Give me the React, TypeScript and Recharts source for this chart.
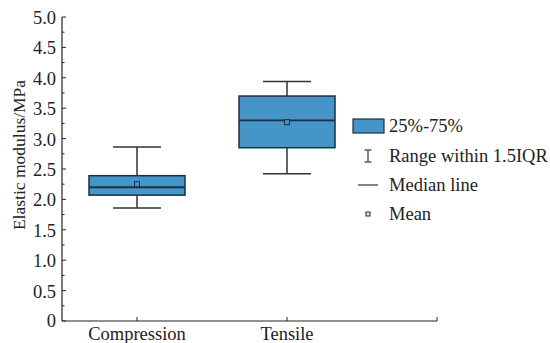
import React from 'react';
import { ComposedChart, Bar, Scatter, XAxis, YAxis } from 'recharts';

const categories = ['Compression', 'Tensile'];
const positions = [0.5, 1.5];
const whiskerLow = [1.86, 2.42];
const q1 = [2.07, 2.85];
const median = [2.2, 3.3];
const q3 = [2.39, 3.7];
const whiskerHigh = [2.86, 3.94];
const mean = [2.25, 3.27];

const yTicks = Array.from({ length: 21 }, (_, i) => i * 0.25);
const xTicks = [0.5, 1.5, 2.5];
const legendLabels = ['25%-75%', 'Range within 1.5IQR', 'Median line', 'Mean'];

const data = categories.map((c, i) => ({
  name: c,
  pos: positions[i],
  low: whiskerLow[i],
  q1: q1[i],
  median: median[i],
  q3: q3[i],
  high: whiskerHigh[i],
  mean: mean[i],
}));

const FONT = '"Liberation Serif", "Times New Roman", serif';
const BOX = '#4595c9';
const EDGE = '#1d2f40';
const INK = '#222';

const BoxShape = (props: any) => {
  const { x, y, width, height, payload } = props;
  const top = Math.min(y, y + height);
  const h = Math.abs(height);
  const k = h / (payload.q3 - payload.q1);
  const yOf = (v: number) => top + (payload.q3 - v) * k;
  const cx = x + width / 2;
  const capHalf = width / 4;
  const yHigh = yOf(payload.high);
  const yLow = yOf(payload.low);
  const yMed = yOf(payload.median);
  return (
    <g>
      <line x1={cx} x2={cx} y1={yHigh} y2={top} stroke="#333" strokeWidth={1.5} />
      <line x1={cx} x2={cx} y1={top + h} y2={yLow} stroke="#333" strokeWidth={1.5} />
      <line x1={cx - capHalf} x2={cx + capHalf} y1={yHigh} y2={yHigh} stroke="#333" strokeWidth={1.5} />
      <line x1={cx - capHalf} x2={cx + capHalf} y1={yLow} y2={yLow} stroke="#333" strokeWidth={1.5} />
      <rect x={x} y={top} width={width} height={h} fill={BOX} stroke={EDGE} strokeWidth={1.5} />
      <line x1={x} x2={x + width} y1={yMed} y2={yMed} stroke={EDGE} strokeWidth={1.8} />
    </g>
  );
};

const MeanShape = (props: any) => {
  const { cx, cy } = props;
  return <rect x={cx - 2.5} y={cy - 2.5} width={5} height={5} fill={BOX} stroke={EDGE} strokeWidth={1} />;
};

const YTick = (props: any) => {
  const { x, y, payload } = props;
  const v = payload.value;
  const axisX = x + 6;
  const major = Math.abs(v * 2 - Math.round(v * 2)) < 1e-6;
  const label = v === 0 ? '0' : v.toFixed(1);
  return (
    <g>
      <line x1={axisX} x2={axisX + (major ? 4 : 2.5)} y1={y} y2={y} stroke={INK} strokeWidth={1} />
      {major && (
        <text x={x} y={y} dy={v === 0 ? 6 : 7} textAnchor="end" fontFamily={FONT} fontSize={18.5} fill={INK}>
          {label}
        </text>
      )}
    </g>
  );
};

const XTick = (props: any) => {
  const { x, y, payload } = props;
  const axisY = y - 6;
  const idx = positions.indexOf(payload.value);
  return (
    <g>
      <line x1={x} x2={x} y1={axisY} y2={axisY - 4} stroke={INK} strokeWidth={1} />
      {idx >= 0 && (
        <text x={x} y={y + 13} textAnchor="middle" fontFamily={FONT} fontSize={18.5} fill={INK}>
          {categories[idx]}
        </text>
      )}
    </g>
  );
};

const YLabel = (props: any) => {
  const { viewBox } = props;
  const lx = viewBox.x + 19;
  const ly = viewBox.y + viewBox.height / 2 - 14;
  return (
    <text
      x={lx}
      y={ly}
      transform={`rotate(-90, ${lx}, ${ly})`}
      textAnchor="middle"
      dominantBaseline="central"
      fontFamily={FONT}
      fontSize={17.5}
      fill={INK}
    >
      Elastic modulus/MPa
    </text>
  );
};

const LegendBox = () => {
  const rows = [126, 156, 185, 214];
  const ix = 368;
  return (
    <svg width={550} height={343} style={{ position: 'absolute', left: 0, top: 0, pointerEvents: 'none' }}>
      <rect x={353} y={119} width={31} height={14} fill={BOX} stroke={EDGE} strokeWidth={1.2} />
      <line x1={ix} x2={ix} y1={rows[1] - 6} y2={rows[1] + 6} stroke="#333" strokeWidth={1.2} />
      <line x1={ix - 3.5} x2={ix + 3.5} y1={rows[1] - 6} y2={rows[1] - 6} stroke="#333" strokeWidth={1.2} />
      <line x1={ix - 3.5} x2={ix + 3.5} y1={rows[1] + 6} y2={rows[1] + 6} stroke="#333" strokeWidth={1.2} />
      <line x1={358} x2={378} y1={rows[2]} y2={rows[2]} stroke="#333" strokeWidth={1.2} />
      <rect x={ix - 2} y={rows[3] - 2} width={4} height={4} fill="#cfe3f1" stroke={EDGE} strokeWidth={1} />
      {legendLabels.map((t, i) => (
        <text key={t} x={389} y={rows[i]} dy={6} fontFamily={FONT} fontSize={18.5} fill={INK}>
          {t}
        </text>
      ))}
    </svg>
  );
};

export default function App() {
  return (
    <div style={{ position: 'absolute', left: 0, top: 0, width: 550, height: 343, background: '#fff' }}>
      <ComposedChart width={550} height={343} data={data} margin={{ top: 17, right: 113, bottom: 0, left: 0 }}>
        <XAxis
          dataKey="pos"
          type="number"
          domain={[0, 2.5]}
          ticks={xTicks}
          allowDataOverflow
          tickSize={0}
          tickMargin={6}
          tickLine={false}
          axisLine={{ stroke: INK, strokeWidth: 1.2 }}
          tick={<XTick />}
          height={22}
          interval={0}
        />
        <YAxis
          type="number"
          domain={[0, 5]}
          ticks={yTicks}
          allowDataOverflow
          tickSize={0}
          tickMargin={6}
          tickLine={false}
          axisLine={{ stroke: INK, strokeWidth: 1.2 }}
          tick={<YTick />}
          width={62}
          interval={0}
          label={{ content: <YLabel /> }}
        />
        <Bar dataKey={(d: any) => [d.q1, d.q3]} barSize={96} shape={<BoxShape />} isAnimationActive={false} />
        <Scatter dataKey="mean" shape={<MeanShape />} isAnimationActive={false} />
      </ComposedChart>
      <LegendBox />
    </div>
  );
}
